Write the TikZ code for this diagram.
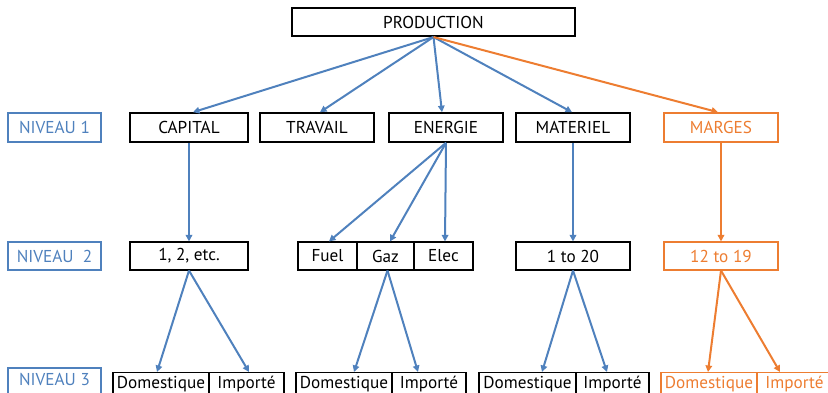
\documentclass[tikz,border=0pt]{standalone}
\usepackage{fontspec}
\setmainfont{PT Sans}
\usetikzlibrary{arrows.meta}
\definecolor{ablue}{HTML}{4F81BD}
\definecolor{aorange}{HTML}{ED7D31}
\begin{document}
\begin{tikzpicture}[x=1pt,y=-1pt,
  every node/.style={font=\fontsize{17.2}{19}\selectfont, inner sep=0pt, text=black},
  thickbox/.style={draw=black, line width=2.1pt, minimum height=28.5},
  thinbox/.style={draw=black, line width=1.1pt, minimum height=28},
  lvlbox/.style={draw=ablue, line width=2.1pt, text=ablue, minimum width=93},
  lowbox/.style={draw=black, line width=1.1pt, anchor=north, text height=13pt, text depth=6pt, inner ysep=3pt},
  arr/.style={draw=ablue, line width=2pt, -{Triangle[length=6.5pt,width=6.5pt]}},
  oarr/.style={arr, draw=aorange, color=aorange},
]
\useasboundingbox (0,0) rectangle (828,393);
% top
\node[thickbox, minimum width=283, minimum height=28] (prod) at (433.5,22) {PRODUCTION};
% level 1
\node[lvlbox, minimum height=29] (n1) at (54.5,127.5) {NIVEAU 1};
\node[thickbox, minimum width=118] (capital) at (189,127.5) {CAPITAL};
\node[thickbox, minimum width=114] (travail) at (317,127.5) {TRAVAIL};
\node[thickbox, minimum width=114] (energie) at (446,127.5) {ENERGIE};
\node[thickbox, minimum width=114] (materiel) at (573,127.5) {MATERIEL};
\node[thickbox, draw=aorange, text=aorange, minimum width=114] (marges) at (721,127.5) {MARGES};
% level 2
\node[lvlbox, minimum height=28] (n2) at (54.5,256) {NIVEAU~~2};
\node[thinbox, minimum width=118] (onetwo) at (189,256) {1, 2, etc.};
\node[thinbox, minimum width=59] (fuel) at (327.5,256) {Fuel};
\node[thinbox, minimum width=57] (gaz) at (385.5,256) {Gaz};
\node[thinbox, minimum width=59] (elec) at (443.5,256) {Elec};
\node[thinbox, minimum width=114] (oneto) at (573,256) {1 to 20};
\node[thinbox, draw=aorange, text=aorange, minimum width=114] (twelve) at (721,256) {12 to 19};
% level 3
\node[lvlbox, anchor=north, text height=14pt, text depth=6pt, inner ysep=3pt] (n3) at (54.5,367) {NIVEAU 3};
\node[lowbox, minimum width=96] (d1) at (161,372) {Domestique};
\node[lowbox, minimum width=75] (i1) at (246.5,372) {Importé};
\node[lowbox, minimum width=96] (d2) at (344,372) {Domestique};
\node[lowbox, minimum width=74] (i2) at (429,372) {Importé};
\node[lowbox, minimum width=97] (d3) at (527.5,372) {Domestique};
\node[lowbox, minimum width=73] (i3) at (612.5,372) {Importé};
\node[lowbox, draw=aorange, text=aorange, minimum width=96] (d4) at (709,372) {Domestique};
\node[lowbox, draw=aorange, text=aorange, minimum width=75] (i4) at (794.5,372) {Importé};
% arrows level 0 -> 1
\draw[arr] (prod.south) -- ([xshift=4]capital.north);
\draw[arr] (prod.south) -- ([xshift=3]travail.north);
\draw[arr] (prod.south) -- ([xshift=-4]energie.north);
\draw[arr] (prod.south) -- ([xshift=-1]materiel.north);
\draw[oarr] (prod.south) -- ([xshift=-3]marges.north);
% level 1 -> 2
\draw[arr] (capital.south) -- (onetwo.north);
\draw[arr] (energie.south) -- ([xshift=1.5]fuel.north);
\draw[arr] (energie.south) -- ([xshift=4.5]gaz.north);
\draw[arr] (energie.south) -- ([xshift=1.5]elec.north);
\draw[arr] (materiel.south) -- (oneto.north);
\draw[oarr] (marges.south) -- (twelve.north);
% level 2 -> 3
\draw[arr] (onetwo.south) -- ([xshift=-4]d1.north);
\draw[arr] (onetwo.south) -- ([xshift=2.5]i1.north);
\draw[arr] ([xshift=2]gaz.south) -- ([xshift=10]d2.north);
\draw[arr] ([xshift=2]gaz.south) -- ([xshift=-11]i2.north);
\draw[arr] (oneto.south) -- ([xshift=14.5]d3.north);
\draw[arr] (oneto.south) -- ([xshift=-5.5]i3.north);
\draw[oarr] (twelve.south) -- ([xshift=-1]d4.north);
\draw[oarr] (twelve.south) -- ([xshift=-14.5]i4.north);
\end{tikzpicture}
\end{document}
